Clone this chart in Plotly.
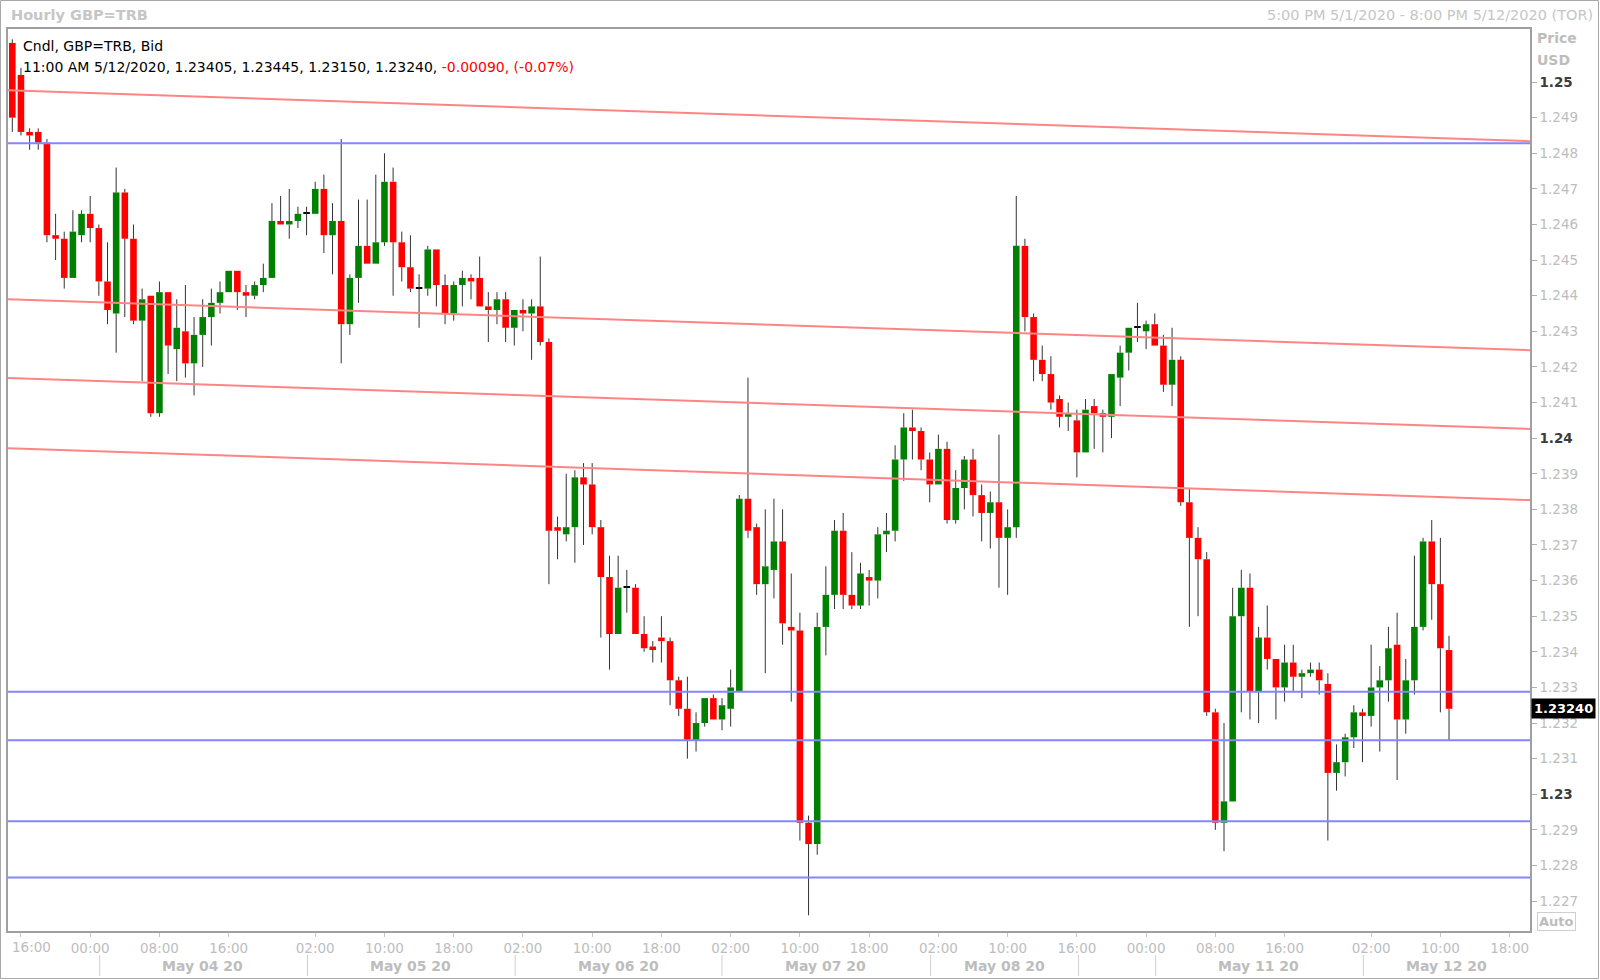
import plotly.graph_objects as go

# ---------------- data (hourly candles, oldest first) ----------------
opens = [1.2511, 1.2502, 1.2486, 1.2486, 1.2483, 1.2457, 1.2456, 1.2445, 1.2457, 1.2463,
         1.2459, 1.2444, 1.2435, 1.2469, 1.2456, 1.2433, 1.2440, 1.2407, 1.2441, 1.2425,
         1.2430, 1.2421, 1.2429, 1.2434, 1.2438, 1.2441, 1.2447, 1.2441, 1.2440, 1.2443,
         1.2445, 1.2461, 1.2460, 1.2461, 1.2463, 1.2463, 1.2470, 1.2457, 1.2461, 1.2432,
         1.2445, 1.2454, 1.2449, 1.2455, 1.2472, 1.2455, 1.2448, 1.2442, 1.2442, 1.2453,
         1.2443, 1.2435, 1.2443, 1.2445, 1.2445, 1.2437, 1.2436, 1.2439, 1.2431, 1.2436,
         1.2435, 1.2437, 1.2427, 1.2375, 1.2373, 1.2375, 1.2389, 1.2387, 1.2375, 1.2361,
         1.2345, 1.2358, 1.2358, 1.2345, 1.23415, 1.2344, 1.2343, 1.2332, 1.2324, 1.2315,
         1.2320, 1.2327, 1.2321, 1.2324, 1.2329, 1.2383, 1.2375, 1.2359, 1.2363, 1.2371,
         1.2347, 1.2346, 1.2292, 1.2286, 1.2347, 1.2356, 1.2374, 1.2356, 1.2353, 1.2361,
         1.2360, 1.2373, 1.2374, 1.2394, 1.2403, 1.2402, 1.2394, 1.2387, 1.2397, 1.2377,
         1.2386, 1.2394, 1.2384, 1.2379, 1.2382, 1.2372, 1.2375, 1.2454, 1.2434, 1.2422,
         1.2418, 1.2411, 1.2406, 1.2405, 1.2396, 1.2409, 1.2407, 1.2406, 1.2417, 1.2424,
         1.2431, 1.2430, 1.2432, 1.2426, 1.2415, 1.2422, 1.2382, 1.2372, 1.2366, 1.2323,
         1.2292, 1.2298, 1.2350, 1.2358, 1.2329, 1.2344, 1.2338, 1.2330, 1.2337, 1.2333,
         1.2334, 1.2335, 1.2331, 1.2306, 1.2309, 1.2316, 1.2323, 1.2322, 1.2330, 1.2332,
         1.2342, 1.2321, 1.2332, 1.2347, 1.2371, 1.2359, 1.23405]
highs = [1.2512, 1.2504, 1.2487, 1.2487, 1.2484, 1.2463, 1.2458, 1.2464, 1.2464, 1.2468,
         1.2460, 1.2455, 1.2476, 1.2470, 1.2460, 1.2442, 1.2440, 1.2444, 1.2441, 1.2439,
         1.2443, 1.2434, 1.2439, 1.2442, 1.2444, 1.2447, 1.2447, 1.2443, 1.2444, 1.2449,
         1.2466, 1.2468, 1.2470, 1.2465, 1.2465, 1.2472, 1.2474, 1.2466, 1.2484, 1.2446,
         1.2467, 1.2467, 1.2474, 1.2480, 1.2476, 1.2458, 1.2457, 1.2446, 1.2454, 1.2453,
         1.2446, 1.2444, 1.2447, 1.2446, 1.2451, 1.2441, 1.2441, 1.2441, 1.2436, 1.2439,
         1.2439, 1.2451, 1.2428, 1.2378, 1.2390, 1.2391, 1.2393, 1.2393, 1.2377, 1.2367,
         1.2367, 1.2363, 1.2359, 1.2350, 1.2343, 1.2350, 1.2344, 1.2333, 1.2333, 1.2323,
         1.2327, 1.2328, 1.2327, 1.2335, 1.2384, 1.2417, 1.2376, 1.2380, 1.2383, 1.2380,
         1.2362, 1.2351, 1.2294, 1.2351, 1.2364, 1.2377, 1.2379, 1.2368, 1.2365, 1.2363,
         1.2375, 1.2379, 1.2398, 1.2407, 1.2408, 1.2403, 1.2396, 1.2401, 1.2399, 1.2391,
         1.2395, 1.2397, 1.2387, 1.2385, 1.2401, 1.2380, 1.2468, 1.2456, 1.2435, 1.2426,
         1.2423, 1.2412, 1.2410, 1.2408, 1.2411, 1.2411, 1.2408, 1.2418, 1.2426, 1.2431,
         1.2438, 1.2433, 1.2435, 1.2429, 1.2431, 1.2423, 1.2386, 1.2375, 1.2368, 1.2324,
         1.2320, 1.2358, 1.2363, 1.2362, 1.2347, 1.2353, 1.2338, 1.2342, 1.2342, 1.2335,
         1.2337, 1.2337, 1.2334, 1.2314, 1.2317, 1.2325, 1.2324, 1.2342, 1.2336, 1.2347,
         1.2351, 1.2338, 1.2367, 1.2372, 1.2377, 1.2372, 1.23445]
lows = [1.2486, 1.2485, 1.2481, 1.2481, 1.2455, 1.2450, 1.2442, 1.2445, 1.2455, 1.2455,
        1.2440, 1.2432, 1.2424, 1.2434, 1.2432, 1.2416, 1.2406, 1.2406, 1.2418, 1.2416,
        1.2417, 1.2412, 1.2420, 1.2426, 1.2435, 1.2441, 1.2436, 1.2434, 1.2439, 1.2441,
        1.2445, 1.2460, 1.2456, 1.2459, 1.2457, 1.2463, 1.2452, 1.2446, 1.2421, 1.2429,
        1.2438, 1.2449, 1.2449, 1.2454, 1.2440, 1.2444, 1.2441, 1.2431, 1.2440, 1.2437,
        1.2432, 1.2433, 1.2437, 1.2439, 1.2437, 1.2427, 1.2432, 1.2427, 1.2426, 1.2430,
        1.2422, 1.2426, 1.2359, 1.2366, 1.2371, 1.2365, 1.2370, 1.2373, 1.2344, 1.2335,
        1.2345, 1.2351, 1.2345, 1.2340, 1.2337, 1.2337, 1.2325, 1.2322, 1.2310, 1.2312,
        1.2319, 1.2321, 1.2318, 1.2319, 1.2329, 1.2372, 1.2356, 1.2334, 1.2355, 1.2342,
        1.2326, 1.2287, 1.2266, 1.2283, 1.2339, 1.2352, 1.2352, 1.2352, 1.2352, 1.2353,
        1.2355, 1.2368, 1.2371, 1.2388, 1.2394, 1.2391, 1.2382, 1.2387, 1.2376, 1.2376,
        1.2380, 1.2378, 1.2371, 1.2369, 1.2358, 1.2356, 1.2372, 1.2430, 1.2416, 1.2416,
        1.2408, 1.2403, 1.2402, 1.2389, 1.2396, 1.2397, 1.2396, 1.2400, 1.2409, 1.2419,
        1.2427, 1.2425, 1.2426, 1.2413, 1.2409, 1.2381, 1.2347, 1.2350, 1.2322, 1.2290,
        1.2284, 1.2298, 1.2323, 1.2321, 1.2320, 1.2335, 1.2321, 1.2326, 1.2329, 1.2327,
        1.2333, 1.2328, 1.2287, 1.2301, 1.2305, 1.2313, 1.2309, 1.2319, 1.2312, 1.2326,
        1.2304, 1.2317, 1.2328, 1.2346, 1.2349, 1.2323, 1.23150]
closes = [1.2490, 1.2486, 1.2485, 1.2483, 1.2457, 1.2456, 1.2445, 1.2458, 1.2463, 1.2459,
          1.2444, 1.2436, 1.2469, 1.2456, 1.2433, 1.2439, 1.2407, 1.2441, 1.2426, 1.2431,
          1.2421, 1.2429, 1.2434, 1.2438, 1.2441, 1.2447, 1.2441, 1.2440, 1.2443, 1.2445,
          1.2461, 1.2460, 1.2461, 1.2463, 1.2463, 1.2470, 1.2457, 1.2461, 1.2432, 1.2445,
          1.2454, 1.2449, 1.2455, 1.2472, 1.2455, 1.2448, 1.2442, 1.2442, 1.2453, 1.2443,
          1.2435, 1.2443, 1.2445, 1.2444, 1.2437, 1.2436, 1.2439, 1.2431, 1.2436, 1.2435,
          1.2437, 1.2427, 1.2374, 1.2374, 1.2375, 1.2389, 1.2387, 1.2375, 1.2361, 1.2345,
          1.2358, 1.2358, 1.2345, 1.2341, 1.23405, 1.2343, 1.2332, 1.2324, 1.2315, 1.2320,
          1.2327, 1.2321, 1.2325, 1.2330, 1.2383, 1.2374, 1.2359, 1.2364, 1.2371, 1.2348,
          1.2346, 1.2292, 1.2286, 1.2347, 1.2356, 1.2374, 1.2356, 1.2353, 1.2362, 1.2360,
          1.2373, 1.2374, 1.2394, 1.2403, 1.2402, 1.2394, 1.2387, 1.2397, 1.2377, 1.2386,
          1.2394, 1.2384, 1.2379, 1.2382, 1.2372, 1.2375, 1.2454, 1.2434, 1.2422, 1.2418,
          1.2410, 1.2406, 1.2407, 1.2396, 1.2408, 1.2407, 1.2406, 1.2418, 1.2424, 1.2431,
          1.2431, 1.2432, 1.2426, 1.2415, 1.2422, 1.2382, 1.2372, 1.2366, 1.2323, 1.2292,
          1.2298, 1.2350, 1.2358, 1.2329, 1.2344, 1.2338, 1.2330, 1.2337, 1.2333, 1.2334,
          1.2335, 1.2332, 1.2306, 1.2309, 1.2316, 1.2323, 1.2322, 1.2330, 1.2332, 1.2341,
          1.2321, 1.2332, 1.2347, 1.2371, 1.2359, 1.2341, 1.23240]

# hour-of-day tick labels (positions are candle indices)
hour_tick_pos = [1, 9, 17, 25, 35, 43, 51, 59, 67, 75, 83, 91, 99, 107, 115, 123, 131, 139, 147, 157, 165, 173]
hour_tick_text = ["16:00", "00:00", "08:00", "16:00", "02:00", "10:00", "18:00", "02:00", "10:00", "18:00",
                  "02:00", "10:00", "18:00", "02:00", "10:00", "16:00", "00:00", "08:00", "16:00", "02:00",
                  "10:00", "18:00"]
day_sep_pos = [10.1, 34.1, 58.1, 82.0, 106.1, 123.2, 132.1, 156.1]
day_label_pos = [22.0, 46.0, 70.0, 94.0, 114.6, 144.0, 165.7]
day_label_text = ["May 04 20", "May 05 20", "May 06 20", "May 07 20", "May 08 20", "May 11 20", "May 12 20"]

# drawn levels
horizontal_levels = [1.24828, 1.23288, 1.23152, 1.22924, 1.22766]
trend_start = [1.24977, 1.24390, 1.24169, 1.23972]
trend_end = [1.24834, 1.24247, 1.24026, 1.23826]

price_ticks = [round(1.227 + 0.001 * i, 3) for i in range(24)]
last_label = "11:00 AM 5/12/2020"
change_abs = "-0.00090"
change_pct = "(-0.07%)"

# ---------------- figure ----------------
W_FIG, H_FIG = 1600, 980
L, R, T, B = 8, 70, 29, 49
PW, PH = W_FIG - L - R, H_FIG - T - B


def pxx(x):
    return (x - L) / PW


def pxy(y):
    return 1 - (y - T) / PH


FONT = "DejaVu Sans"
GRAY = "#bdbdbd"

n = len(opens)
idx = list(range(n))

fig = go.Figure()

# wicks (outside body only)
wx, wy = [], []
for i in idx:
    o, h, l, c = opens[i], highs[i], lows[i], closes[i]
    top, bot = max(o, c), min(o, c)
    if h > top:
        wx += [i, i, None]
        wy += [top, h, None]
    if l < bot:
        wx += [i, i, None]
        wy += [l, bot, None]
fig.add_trace(go.Scatter(x=wx, y=wy, mode="lines", line=dict(color="#333333", width=1),
                         hoverinfo="skip", showlegend=False))

# bodies
bases, heights, colors = [], [], []
for i in idx:
    o, c = opens[i], closes[i]
    bases.append(min(o, c))
    heights.append(max(abs(c - o), 0.00003))
    colors.append("#ff0000" if c < o else ("#008000" if c > o else "#000000"))
fig.add_trace(go.Bar(x=idx, y=heights, base=bases, width=0.76,
                     marker=dict(color=colors, line=dict(width=0)),
                     hoverinfo="skip", showlegend=False))

shapes = []
for s, e in zip(trend_start, trend_end):
    shapes.append(dict(type="line", xref="paper", yref="y", x0=0, x1=1, y0=s, y1=e,
                       line=dict(color="#ff8585", width=2), layer="above"))
for lv in horizontal_levels:
    shapes.append(dict(type="line", xref="paper", yref="y", x0=0, x1=1, y0=lv, y1=lv,
                       line=dict(color="#8585ff", width=2), layer="above"))
for d in day_sep_pos:
    shapes.append(dict(type="line", xref="x", yref="paper", x0=d, x1=d, y0=pxy(955), y1=pxy(976),
                       line=dict(color="#cfcfcf", width=1)))
# outer frame
shapes.append(dict(type="rect", xref="paper", yref="paper", x0=pxx(0.5), x1=pxx(1598.5),
                   y0=pxy(978.5), y1=pxy(0.5), line=dict(color="#a8a8a8", width=1)))

annotations = []
annotations.append(dict(xref="paper", yref="paper", x=pxx(9), y=pxy(15), xanchor="left", yanchor="middle",
                        text="<b>Hourly GBP=TRB</b>", showarrow=False,
                        font=dict(family=FONT, size=14.5, color="#c6c6c6")))
annotations.append(dict(xref="paper", yref="paper", x=pxx(1595), y=pxy(15), xanchor="right", yanchor="middle",
                        text="5:00 PM 5/1/2020 - 8:00 PM 5/12/2020 (TOR)", showarrow=False,
                        font=dict(family=FONT, size=14.5, color="#c6c6c6")))
annotations.append(dict(xref="paper", yref="paper", x=pxx(21), y=pxy(46), xanchor="left", yanchor="middle",
                        text="Cndl, GBP=TRB, Bid", showarrow=False,
                        font=dict(family=FONT, size=14, color="#000000")))
ohlc_txt = "%s, %.5f, %.5f, %.5f, %.5f, " % (last_label, opens[-1], highs[-1], lows[-1], closes[-1])
annotations.append(dict(xref="paper", yref="paper", x=pxx(21), y=pxy(67), xanchor="left", yanchor="middle",
                        text=ohlc_txt + "<span style='color:#ff0000'>%s, %s</span>" % (change_abs, change_pct),
                        showarrow=False, font=dict(family=FONT, size=14, color="#000000")))
annotations.append(dict(xref="paper", yref="paper", x=pxx(1535), y=pxy(38), xanchor="left", yanchor="middle",
                        text="<b>Price</b>", showarrow=False, font=dict(family=FONT, size=14, color=GRAY)))
annotations.append(dict(xref="paper", yref="paper", x=pxx(1535), y=pxy(60), xanchor="left", yanchor="middle",
                        text="<b>USD</b>", showarrow=False, font=dict(family=FONT, size=14, color=GRAY)))
annotations.append(dict(xref="paper", yref="paper", x=pxx(1537), y=pxy(921.5), xanchor="left", yanchor="middle",
                        text="<b>Auto</b>", showarrow=False, bordercolor="#cfcfcf", borderwidth=1, borderpad=1,
                        font=dict(family=FONT, size=13, color=GRAY)))
annotations.append(dict(xref="paper", yref="y", x=pxx(1531), y=closes[-1], xanchor="left", yanchor="middle",
                        text="<b>%.5f</b>" % closes[-1], showarrow=False, bgcolor="#000000", borderpad=2,
                        font=dict(family=FONT, size=13, color="#ffffff")))
for p, t in zip(day_label_pos, day_label_text):
    annotations.append(dict(xref="x", yref="paper", x=p, y=pxy(966), xanchor="center", yanchor="middle",
                            text="<b>%s</b>" % t, showarrow=False, font=dict(family=FONT, size=14, color=GRAY)))
# the first hour label sits just inside the left edge in the original
annotations.append(dict(xref="paper", yref="paper", x=pxx(10), y=pxy(947), xanchor="left", yanchor="middle",
                        text=hour_tick_text[0], showarrow=False, font=dict(family=FONT, size=13.5, color=GRAY)))

ytext = []
for v in price_ticks:
    if abs(v * 100 - round(v * 100)) < 1e-9:
        ytext.append("<b><span style='color:#3c3c3c'>%s</span></b>" % ("%g" % v))
    else:
        ytext.append("%g" % v)

xtext = [""] + list(hour_tick_text[1:])

xmin = (L - 12.3) / 8.655
xmax = xmin + PW / 8.655

fig.update_layout(
    width=W_FIG, height=H_FIG,
    margin=dict(l=L, r=R, t=T, b=B, pad=0, autoexpand=False),
    paper_bgcolor="white", plot_bgcolor="white",
    barmode="overlay", hovermode=False, showlegend=False,
    shapes=shapes, annotations=annotations,
    font=dict(family=FONT),
    xaxis=dict(range=[xmin, xmax], showgrid=False, zeroline=False, automargin=False,
               tickmode="array", tickvals=hour_tick_pos, ticktext=xtext,
               ticks="outside", ticklen=4, tickcolor="#c8c8c8",
               tickfont=dict(family=FONT, size=13.5, color=GRAY),
               showline=True, mirror=True, linecolor="#a0a0a0", linewidth=1.5),
    yaxis=dict(range=[1.22616, 1.25149], side="right", showgrid=False, zeroline=False, automargin=False,
               tickmode="array", tickvals=price_ticks, ticktext=ytext,
               ticks="outside", ticklen=5, tickcolor="#b0b0b0",
               tickfont=dict(family=FONT, size=13.5, color=GRAY),
               showline=True, mirror=True, linecolor="#a0a0a0", linewidth=1.5),
)

fig.write_html("out.html", config={"displayModeBar": False})

# remove the default page margin so the figure fills the window exactly
with open("out.html", "r", encoding="utf-8") as fh:
    html = fh.read()
html = html.replace("<head>", "<head><style>html,body{margin:0;padding:0;overflow:hidden;}</style>", 1)
with open("out.html", "w", encoding="utf-8") as fh:
    fh.write(html)
